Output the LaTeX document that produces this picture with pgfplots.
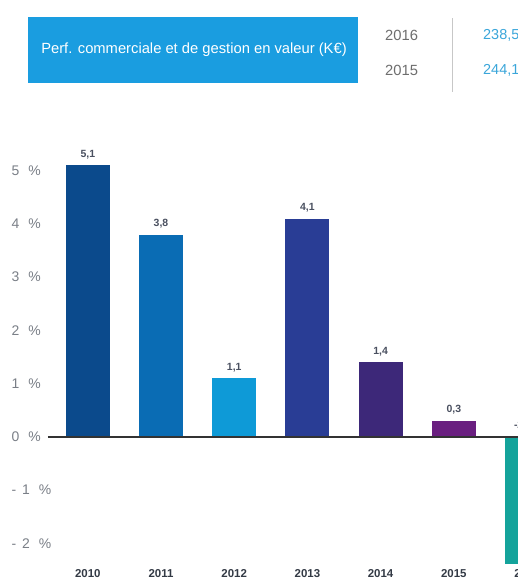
\documentclass[border=0pt]{standalone}
\usepackage{pgfplots}
\pgfplotsset{compat=1.18}
\usepackage{fontspec}
\setmainfont{Liberation Sans}
\definecolor{c10}{HTML}{0B4A8C}
\definecolor{c11}{HTML}{0A6CB4}
\definecolor{c12}{HTML}{0E9AD7}
\definecolor{c13}{HTML}{293D95}
\definecolor{c14}{HTML}{3D2879}
\definecolor{c15}{HTML}{6A1F80}
\definecolor{c16}{HTML}{14A39B}
\definecolor{hdr}{HTML}{1A9DE0}
\definecolor{tickgray}{HTML}{7A7F87}
\definecolor{valgray}{HTML}{4A5060}
\definecolor{yeargray}{HTML}{333A45}
\definecolor{valblue}{HTML}{3AA6DA}
\definecolor{hgray}{HTML}{6E6E6E}
\begin{document}
\begin{tikzpicture}[x=1bp,y=1bp]
\useasboundingbox (0,0) rectangle (518,580);
\fill[white] (0,0) rectangle (518,580);
\clip (0,0) rectangle (518,580);
\begin{scope}[overlay]
% header
\fill[hdr] (28,497) rectangle (358,563);
\node[white, inner sep=0pt, font=\fontsize{14.8}{16}\selectfont] at (194,530) {Perf. commerciale et de gestion en valeur (K€)};
\node[hgray, anchor=west, inner sep=0pt, font=\fontsize{14.8}{16}\selectfont] at (385,545) {2016};
\node[hgray, anchor=west, inner sep=0pt, font=\fontsize{14.8}{16}\selectfont] at (385,510) {2015};
\draw[line width=1bp, black!22] (452,488) -- (452,562);
\node[valblue, anchor=west, inner sep=0pt, font=\fontsize{14.5}{16}\selectfont] at (483,545) {238,5};
\node[valblue, anchor=west, inner sep=0pt, font=\fontsize{14.5}{16}\selectfont] at (483,510) {244,1};
\begin{axis}[
  scale only axis,
  width=515.8bp, height=436.24bp,
  at={(65.3,9.2)}, anchor=south west,
  xmin=-0.5464, xmax=6.5,
  ymin=-2.6, ymax=5.6,
  axis line style={draw=none},
  major tick length=0pt,
  xtick={0,1,2,3,4,5,6},
  xticklabels={2010,2011,2012,2013,2014,2015,2016},
  xticklabel style={anchor=center, yshift=1.5bp, font=\fontsize{11.5}{13}\selectfont\bfseries, text=yeargray},
  ytick={-2,-1,0,1,2,3,4,5},
  yticklabels={{-\hspace{6bp}2\hspace{9bp}\%},{-\hspace{6bp}1\hspace{9bp}\%},{0\hspace{9bp}\%},{1\hspace{9bp}\%},{2\hspace{9bp}\%},{3\hspace{9bp}\%},{4\hspace{9bp}\%},{5\hspace{9bp}\%}},
  yticklabel style={anchor=west, inner sep=0pt, xshift=-36.5bp, font=\fontsize{14}{16}\selectfont, text=tickgray},
  /pgf/number format/assume math mode=true,
  every node near coord/.append style={font=\fontsize{10.5}{12}\selectfont\bfseries, text=valgray, yshift=3bp},
  nodes near coords={\pgfmathprintnumber[use comma,fixed,fixed zerofill,precision=1]{\pgfplotspointmeta}},
]
\addplot[ybar, bar width=44bp, bar shift=0pt, fill=c10, draw=none] coordinates {(0,5.1)};
\addplot[ybar, bar width=44bp, bar shift=0pt, fill=c11, draw=none] coordinates {(1,3.8)};
\addplot[ybar, bar width=44bp, bar shift=0pt, fill=c12, draw=none] coordinates {(2,1.1)};
\addplot[ybar, bar width=44bp, bar shift=0pt, fill=c13, draw=none] coordinates {(3,4.1)};
\addplot[ybar, bar width=44bp, bar shift=0pt, fill=c14, draw=none] coordinates {(4,1.4)};
\addplot[ybar, bar width=44bp, bar shift=0pt, fill=c15, draw=none] coordinates {(5,0.3)};
\addplot[ybar, bar width=44bp, bar shift=0pt, fill=c16, draw=none, nodes near coords={}] coordinates {(6,-2.4)};
\node[font=\fontsize{10.5}{12}\selectfont\bfseries, text=valgray, anchor=south, xshift=-4bp, yshift=3bp] at (axis cs:6,0) {-2,4};
\draw[line width=2bp, black!80] (axis cs:-0.5464,0) -- (axis cs:6.5,0);
\end{axis}
\end{scope}
\end{tikzpicture}
\end{document}
